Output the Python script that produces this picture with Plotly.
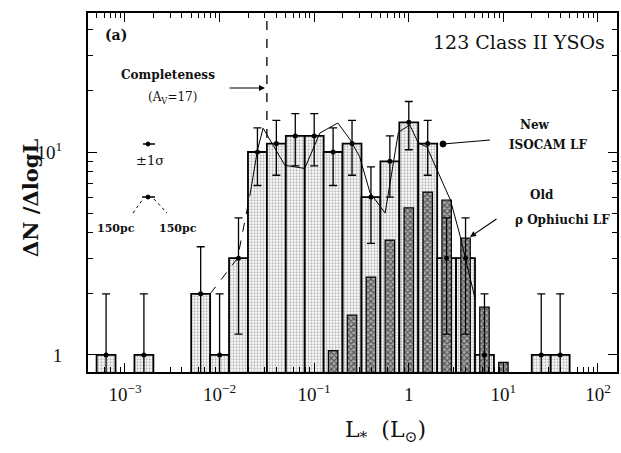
import numpy as np
import plotly.graph_objects as go

# ---------------- data ----------------
# New ISOCAM LF: bin centres in log10(L*/Lsun), counts per 0.2 dex bin
new_logL = [-3.2, -2.8, -2.2, -2.0, -1.8, -1.6, -1.4, -1.2, -1.0, -0.8,
            -0.6, -0.4, -0.2, 0.0, 0.2, 0.4, 0.6, 0.8, 1.4, 1.6]
new_N = [1, 1, 2, 1, 3, 10, 11, 12, 12, 10, 11, 6, 9, 14, 11, 3, 3, 1, 1, 1]

# Old rho Ophiuchi LF (narrow hatched bars)
old_logL = [-0.8, -0.6, -0.4, -0.2, 0.0, 0.2, 0.4, 0.6, 0.8, 1.0]
old_N = [1.05, 1.57, 2.42, 3.68, 5.3, 6.35, 5.8, 3.76, 1.72, 0.92]

# thin line (LF for shifted distance / bins)
shift_logL_dashed = [-2.10, -1.81, -1.68]
shift_N_dashed = [2.0, 3.0, 6.1]
shift_logL = [-1.68, -1.60, -1.54, -1.47, -1.31, -1.10, -0.94, -0.75, -0.62,
              -0.52, -0.41, -0.25, -0.11, 0.01, 0.10, 0.19, 0.30, 0.44, 0.54, 0.70]
shift_N = [6.1, 10.2, 13.1, 11.5, 8.6, 8.3, 12.4, 13.9, 11.5,
           9.5, 6.3, 5.0, 12.5, 13.6, 11.1, 10.6, 8.2, 5.8, 3.9, 1.9]

completeness_logL = -1.5
bin_width = 0.2
old_bar_width = 0.1

x_tickvals = [-3, -2, -1, 0, 1, 2]
x_ticktext = ["10<sup>−3</sup>", "10<sup>−2</sup>", "10<sup>−1</sup>", "1",
              "10<sup>1</sup>", "10<sup>2</sup>"]
y_tickvals = [1, 10]
y_ticktext = ["1", "10<sup>1</sup>"]

# ---------------- figure ----------------
FONT = "Liberation Serif"
TFONT = "DejaVu Serif"
err_up = [np.sqrt(n) for n in new_N]
err_lo = [min(np.sqrt(n), 0.995 * n) for n in new_N]

fig = go.Figure()

fig.add_trace(go.Bar(
    x=new_logL, y=new_N, width=bin_width,
    marker=dict(color="white", line=dict(color="black", width=1.8),
                pattern=dict(shape=".", fgcolor="#777", bgcolor="white",
                             size=3, solidity=0.45)),
    showlegend=False))

fig.add_trace(go.Bar(
    x=old_logL, y=old_N, width=old_bar_width,
    marker=dict(color="#999", line=dict(color="black", width=1.2),
                pattern=dict(shape="x", fgcolor="black", bgcolor="#aaa",
                             size=4, solidity=0.5)),
    showlegend=False))

fig.add_trace(go.Scatter(
    x=shift_logL_dashed, y=shift_N_dashed, mode="lines",
    line=dict(color="black", width=1, dash="dash"), showlegend=False))
fig.add_trace(go.Scatter(
    x=shift_logL, y=shift_N, mode="lines",
    line=dict(color="black", width=1), showlegend=False))

fig.add_trace(go.Scatter(
    x=new_logL, y=new_N, mode="markers",
    marker=dict(color="black", size=5),
    error_y=dict(type="data", symmetric=False, array=err_up, arrayminus=err_lo,
                 color="black", thickness=1.3, width=4),
    showlegend=False))

# completeness dashed line
fig.add_vline(x=completeness_logL, line=dict(color="black", width=1.3, dash="dash"),
              layer="below")

minor_x = [d + np.log10(k) for d in range(-4, 3) for k in range(2, 10)]
minor_x = [v for v in minor_x if -3.39 < v < 2.2]

fig.update_xaxes(
    range=[-3.391, 2.201], tickmode="array", tickvals=x_tickvals, ticktext=x_ticktext,
    ticks="inside", ticklen=9, tickwidth=1.3, tickcolor="black",
    showline=True, linecolor="black", linewidth=2, mirror="allticks",
    showgrid=False, zeroline=False, automargin=False, ticklabelstandoff=4,
    minor=dict(tickmode="array", tickvals=minor_x, ticks="inside", ticklen=5,
               tickcolor="black", tickwidth=1, showgrid=False),
    tickfont=dict(family=FONT, size=19, color="#111"))

fig.update_yaxes(
    type="log", range=[-0.084, 1.685], tickmode="array", tickvals=y_tickvals,
    ticktext=y_ticktext, ticks="inside", ticklen=9, tickwidth=1.3, tickcolor="black",
    showline=True, linecolor="black", linewidth=2, mirror="allticks",
    showgrid=False, zeroline=False, ticklabelstandoff=20, automargin=False,
    minor=dict(tickmode="array", tickvals=[2, 3, 4, 5, 6, 7, 8, 9, 20, 30, 40],
               ticks="inside", ticklen=5, tickcolor="black", tickwidth=1, showgrid=False),
    tickfont=dict(family=FONT, size=19, color="#111"))

def px(x):
    return (x - 88) / 529.0

def py(y):
    return (372 - y) / 359.0

ann = []
def text(x, y, s, size=14, xanchor="center", angle=0, family=TFONT):
    ann.append(dict(x=px(x), y=py(y), xref="paper", yref="paper", text=s,
                    showarrow=False, xanchor=xanchor, yanchor="middle",
                    textangle=angle, font=dict(family=family, size=size, color="#111")))

text(116, 35, "<b>(a)</b>", 14)
text(607, 42, "123 Class II YSOs", 19, xanchor="right")
text(168, 75, "<b>Completeness</b>", 12)
text(172, 98, "(A<sub>V</sub>=17)", 12)
text(150, 160, "±1σ", 13)
text(116, 228, "<b>150pc</b>", 11)
text(178, 228, "<b>150pc</b>", 11)
text(535, 125, "<b>New</b>", 12)
text(548, 145, "<b>ISOCAM LF</b>", 12)
text(542, 195, "<b>Old</b>", 12)
text(562, 220, "<b>ρ Ophiuchi LF</b>", 12)
text(30, 198, "<b>ΔN /ΔlogL</b>", 21, angle=-90)
text(385, 432, "L<sub>*</sub>  (L<sub>⊙</sub>)", 22)

# arrows
ann.append(dict(x=px(265), y=py(88), xref="paper", yref="paper", ax=-37, ay=0,
                showarrow=True, arrowhead=2, arrowsize=1, arrowwidth=1.2,
                arrowcolor="black", text=""))
ann.append(dict(x=px(470), y=py(237), xref="paper", yref="paper", ax=28, ay=-19,
                showarrow=True, arrowhead=2, arrowsize=1, arrowwidth=1.2,
                arrowcolor="black", text=""))
fig.update_layout(annotations=ann)

shapes = [
    # New ISOCAM LF pointer
    dict(type="line", xref="paper", yref="paper", x0=px(443), y0=py(144), x1=px(490), y1=py(140),
         line=dict(color="black", width=1.2)),
    dict(type="circle", xref="paper", yref="paper", x0=px(440), y0=py(147), x1=px(446), y1=py(141),
         fillcolor="black", line=dict(color="black", width=1)),
    # ±1σ symbol
    dict(type="line", xref="paper", yref="paper", x0=px(143), y0=py(144), x1=px(155), y1=py(144),
         line=dict(color="black", width=1.5)),
    dict(type="circle", xref="paper", yref="paper", x0=px(146), y0=py(146), x1=px(150), y1=py(142),
         fillcolor="black", line=dict(color="black", width=1)),
    # 150pc symbol
    dict(type="line", xref="paper", yref="paper", x0=px(142), y0=py(197), x1=px(155), y1=py(197),
         line=dict(color="black", width=1.5)),
    dict(type="circle", xref="paper", yref="paper", x0=px(146), y0=py(199), x1=px(150), y1=py(195),
         fillcolor="black", line=dict(color="black", width=1)),
    dict(type="line", xref="paper", yref="paper", x0=px(133), y0=py(213), x1=px(143), y1=py(199),
         line=dict(color="black", width=1, dash="dot")),
    dict(type="line", xref="paper", yref="paper", x0=px(154), y0=py(199), x1=px(167), y1=py(213),
         line=dict(color="black", width=1, dash="dot")),
]
for s in shapes:
    fig.add_shape(**s)

fig.update_layout(
    width=621, height=453, barmode="overlay",
    margin=dict(l=88, r=4, t=13, b=81),
    plot_bgcolor="white", paper_bgcolor="white",
    font=dict(family=FONT, color="#111"),
    showlegend=False)

fig.write_html("out.html", config={"displayModeBar": False},
               post_script="document.body.style.margin='0';document.body.style.padding='0';")
